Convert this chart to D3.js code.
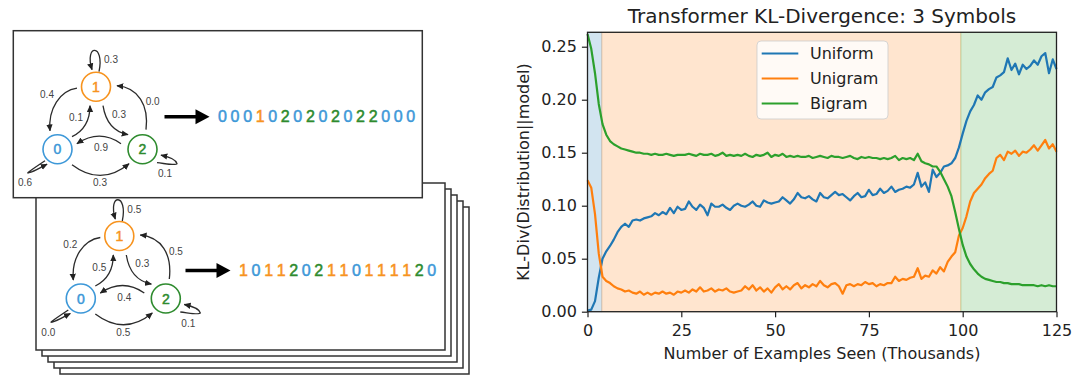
<!DOCTYPE html>
<html>
<head>
<meta charset="utf-8">
<script src="https://cdn.jsdelivr.net/npm/d3@7"></script>
<style>
  body { margin: 0; background: #fff; }
</style>
</head>
<body>
<svg id="fig" width="1080" height="388"></svg>
<script>
// ---- chart data ----
const examplesSeen = d3.range(0, 126); // thousands
const seriesNames = ["Uniform", "Unigram", "Bigram"];
const uniformKL = [
  0.001,0.002,0.010,0.032,0.050,0.057,0.062,0.068,0.075,0.080,
  0.083,0.080,0.086,0.087,0.086,0.088,0.089,0.090,0.093,0.091,
  0.094,0.092,0.098,0.093,0.099,0.096,0.097,0.104,0.099,0.096,
  0.101,0.098,0.091,0.102,0.099,0.099,0.101,0.098,0.096,0.100,
  0.102,0.100,0.099,0.101,0.104,0.100,0.099,0.105,0.103,0.102,
  0.103,0.104,0.108,0.105,0.102,0.106,0.112,0.108,0.107,0.109,
  0.106,0.104,0.112,0.108,0.107,0.110,0.113,0.110,0.111,0.108,
  0.105,0.109,0.112,0.108,0.109,0.115,0.110,0.111,0.116,0.112,
  0.114,0.118,0.113,0.115,0.116,0.118,0.117,0.120,0.131,0.118,
  0.122,0.113,0.134,0.127,0.131,0.137,0.138,0.140,0.145,0.155,
  0.168,0.180,0.189,0.195,0.204,0.200,0.207,0.210,0.212,0.221,
  0.223,0.226,0.239,0.228,0.234,0.224,0.233,0.229,0.232,0.237,
  0.233,0.241,0.244,0.225,0.238,0.229
];
const unigramKL = [
  0.124,0.117,0.092,0.055,0.033,0.029,0.027,0.024,0.022,0.021,
  0.019,0.020,0.018,0.017,0.019,0.016,0.018,0.016,0.018,0.017,
  0.019,0.017,0.018,0.016,0.019,0.018,0.020,0.018,0.021,0.019,
  0.023,0.019,0.020,0.022,0.019,0.021,0.020,0.022,0.019,0.018,
  0.019,0.020,0.024,0.021,0.025,0.020,0.023,0.019,0.022,0.018,
  0.023,0.026,0.021,0.024,0.021,0.025,0.027,0.022,0.025,0.023,
  0.026,0.024,0.029,0.025,0.023,0.026,0.027,0.024,0.017,0.025,
  0.026,0.024,0.026,0.025,0.028,0.026,0.027,0.024,0.026,0.025,
  0.027,0.027,0.033,0.029,0.031,0.030,0.032,0.033,0.041,0.031,
  0.034,0.033,0.039,0.036,0.042,0.038,0.047,0.052,0.056,0.072,
  0.079,0.090,0.104,0.112,0.116,0.120,0.126,0.130,0.133,0.145,
  0.148,0.143,0.151,0.149,0.152,0.147,0.151,0.150,0.153,0.157,
  0.152,0.157,0.162,0.154,0.158,0.151
];
const bigramKL = [
  0.262,0.248,0.225,0.196,0.177,0.167,0.161,0.158,0.156,0.154,
  0.153,0.152,0.151,0.150,0.150,0.149,0.149,0.148,0.149,0.148,
  0.148,0.149,0.148,0.147,0.148,0.148,0.148,0.149,0.148,0.147,
  0.149,0.148,0.148,0.149,0.147,0.148,0.150,0.147,0.148,0.147,
  0.148,0.147,0.149,0.147,0.146,0.148,0.147,0.148,0.150,0.146,
  0.148,0.147,0.149,0.146,0.147,0.146,0.147,0.146,0.146,0.147,
  0.145,0.146,0.147,0.146,0.145,0.147,0.146,0.146,0.145,0.146,
  0.147,0.145,0.144,0.146,0.145,0.146,0.145,0.145,0.144,0.145,
  0.144,0.145,0.147,0.143,0.145,0.144,0.145,0.143,0.149,0.142,
  0.140,0.139,0.137,0.137,0.132,0.125,0.118,0.109,0.094,0.078,
  0.063,0.052,0.045,0.040,0.036,0.033,0.031,0.030,0.029,0.028,
  0.028,0.027,0.027,0.026,0.026,0.026,0.025,0.025,0.025,0.025,
  0.024,0.025,0.024,0.025,0.024,0.024
];
// shaded phases: [start, end) in thousands
const phaseBounds = [0, 3.8, 99.5, 125];
const xTicks = [0, 25, 50, 75, 100, 125];
const yTicks = [0, 0.05, 0.10, 0.15, 0.20, 0.25];

// ---- diagram data ----
const edgeKeys = ["self1", "e10", "e01", "e12", "e21", "e20", "self0", "e02", "self2"];
const topProbs = [0.3, 0.4, 0.1, 0.3, 0.0, 0.9, 0.6, 0.3, 0.1];
const bottomProbs = [0.5, 0.2, 0.5, 0.3, 0.5, 0.4, 0.0, 0.5, 0.1];
const topSequence = "0001020202022000";
const bottomSequence = "1011202110111120";

const tab = ["#1f77b4", "#ff7f0e", "#2ca02c"];
const symColors = ["#3d98d8", "#f7931e", "#2e8b2e"];

const svg = d3.select("#fig");

// arrowhead for the state diagram
svg.append("defs").append("marker")
    .attr("id", "head")
    .attr("viewBox", "0 0 10 10")
    .attr("refX", 9)
    .attr("refY", 5)
    .attr("markerUnits", "userSpaceOnUse")
    .attr("markerWidth", 7)
    .attr("markerHeight", 7)
    .attr("orient", "auto")
    .append("path")
    .attr("d", "M0,0.5 L10,5 L0,9.5 z")
    .attr("fill", "#222");

// ================= LEFT: stacked cards =================
const cardW = 409, cardH = 167;

// the stack behind (back to front)
for (let i = 4; i >= 0; i--) {
    svg.append("rect")
        .attr("x", 36 + 6 * i)
        .attr("y", 183 + 6 * i)
        .attr("width", cardW)
        .attr("height", cardH)
        .attr("fill", "#fff")
        .attr("stroke", "#333")
        .attr("stroke-width", 1.5);
}
// top card
svg.append("rect")
    .attr("x", 13.3)
    .attr("y", 30.7)
    .attr("width", cardW)
    .attr("height", cardH)
    .attr("fill", "#fff")
    .attr("stroke", "#333")
    .attr("stroke-width", 1.5);

// node positions relative to node "1"
const nodePos = [[-38.5, 62.5], [0, 0], [46.5, 62.5]];
const edgePaths = {
    self1: { d: "M3,-15 C9,-43 -12,-43 -4,-17", label: [15, -27] },
    e10:   { d: "M-19,1.5 C-36,4 -48,22 -46,44", label: [-49, 8.3] },
    e01:   { d: "M-24,50 Q-6,41 -6,19", label: [-20, 31] },
    e12:   { d: "M7,19 Q11,44 32,48", label: [23, 27.7] },
    e21:   { d: "M50,43 C53,18 42,1 21,-1", label: [56.7, 15] },
    e20:   { d: "M25,57 Q3.5,42 -19,57", label: [5, 61.3] },
    self0: { d: "M-51,74 C-60,80 -72,88 -67,86 C-62,85 -56,81 -49,77.5", label: [-71, 96] },
    e02:   { d: "M-24,78 Q5,100 33,77", label: [4, 96] },
    self2: { d: "M61,76 C70,77 80,79 81,77 C80,73 72,70 65,68.5", label: [69, 87] }
};

function drawGraph(ox, oy, probs) {
    const g = svg.append("g").attr("transform", `translate(${ox},${oy})`);

    edgeKeys.forEach((k, i) => {
        g.append("path")
            .attr("d", edgePaths[k].d)
            .attr("fill", "none")
            .attr("stroke", "#2b2b2b")
            .attr("stroke-width", 1.3)
            .attr("marker-end", "url(#head)");
        g.append("text")
            .attr("x", edgePaths[k].label[0])
            .attr("y", edgePaths[k].label[1])
            .attr("text-anchor", "middle")
            .attr("dominant-baseline", "central")
            .style("font-family", "'Liberation Sans', Arial, sans-serif")
            .style("font-size", "10px")
            .style("fill", "#444")
            .text(probs[i].toFixed(1));
    });

    const nodes = g.selectAll(".node")
        .data(nodePos)
        .enter()
        .append("g")
        .attr("transform", d => `translate(${d[0]},${d[1]})`);
    nodes.append("circle")
        .attr("r", 14.5)
        .attr("fill", "#fff")
        .attr("stroke", (d, i) => symColors[i])
        .attr("stroke-width", 1.6);
    nodes.append("text")
        .attr("text-anchor", "middle")
        .attr("dominant-baseline", "central")
        .style("font-family", "'Liberation Sans', Arial, sans-serif")
        .style("font-size", "14px")
        .style("fill", (d, i) => symColors[i])
        .style("stroke", (d, i) => symColors[i])
        .style("stroke-width", 0.5)
        .text((d, i) => i);
}

function drawSequence(x0, y0, seq) {
    // big arrow
    svg.append("line")
        .attr("x1", x0 - 54).attr("x2", x0 - 22)
        .attr("y1", y0).attr("y2", y0)
        .attr("stroke", "#000")
        .attr("stroke-width", 3.5);
    svg.append("path")
        .attr("d", `M${x0 - 23},${y0 - 7.5} L${x0 - 9},${y0} L${x0 - 23},${y0 + 7.5} z`)
        .attr("fill", "#000");

    svg.selectAll(null)
        .data(seq.split(""))
        .enter()
        .append("text")
        .attr("x", (d, i) => x0 + 4 + i * 12.55)
        .attr("y", y0)
        .attr("text-anchor", "middle")
        .attr("dominant-baseline", "central")
        .style("font-family", "'Liberation Sans', Arial, sans-serif")
        .style("font-size", "16px")
        .style("fill", d => symColors[+d])
        .style("stroke", d => symColors[+d])
        .style("stroke-width", 0.5)
        .text(d => d);
}

drawGraph(96, 86.7, topProbs);
drawSequence(218.5, 116.7, topSequence);
drawGraph(119.3, 236, bottomProbs);
drawSequence(239.5, 270.5, bottomSequence);

// ================= RIGHT: KL-divergence chart =================
const x = d3.scaleLinear().domain([0, 125]).range([587.5, 1056.5]);
const y = d3.scaleLinear().domain([0, 0.2636]).range([311.7, 32.3]);
const font = "'DejaVu Sans', sans-serif";

const chart = svg.append("g");

// phase shading
chart.selectAll(".phase")
    .data(d3.range(3))
    .enter()
    .append("rect")
    .attr("x", i => x(phaseBounds[i]))
    .attr("y", y.range()[1])
    .attr("width", i => x(phaseBounds[i + 1]) - x(phaseBounds[i]))
    .attr("height", y.range()[0] - y.range()[1])
    .attr("fill", i => tab[i])
    .attr("fill-opacity", 0.2)
    .attr("stroke", i => tab[i])
    .attr("stroke-opacity", 0.2)
    .attr("stroke-width", 1);

// lines
const line = d3.line()
    .x((d, i) => x(examplesSeen[i]))
    .y(d => y(d));

[uniformKL, unigramKL, bigramKL].forEach((s, i) => {
    chart.append("path")
        .datum(s)
        .attr("d", line)
        .attr("fill", "none")
        .attr("stroke", tab[i])
        .attr("stroke-width", 2.2)
        .attr("stroke-linejoin", "round");
});

// axes
const xAxis = chart.append("g")
    .attr("transform", `translate(0,${y(0)})`)
    .call(d3.axisBottom(x).tickValues(xTicks).tickSize(5.6).tickPadding(7).tickSizeOuter(0));
const yAxis = chart.append("g")
    .attr("transform", `translate(${x(0)},0)`)
    .call(d3.axisLeft(y).tickValues(yTicks).tickFormat(d3.format(".2f")).tickSize(5.6).tickPadding(5).tickSizeOuter(0));

[xAxis, yAxis].forEach(a => {
    a.select(".domain").remove();
    a.selectAll("line").attr("stroke", "#222").attr("stroke-width", 1.2);
    a.selectAll("text")
        .style("font-family", font)
        .style("font-size", "16px")
        .style("fill", "#222");
});

// frame
chart.append("rect")
    .attr("x", x(0))
    .attr("y", y.range()[1])
    .attr("width", x(125) - x(0))
    .attr("height", y.range()[0] - y.range()[1])
    .attr("fill", "none")
    .attr("stroke", "#222")
    .attr("stroke-width", 1.3);

// title and labels
chart.append("text")
    .attr("x", (x(0) + x(125)) / 2)
    .attr("y", 23)
    .attr("text-anchor", "middle")
    .style("font-family", font)
    .style("font-size", "20px")
    .style("fill", "#222")
    .text("Transformer KL-Divergence: 3 Symbols");

chart.append("text")
    .attr("x", (x(0) + x(125)) / 2)
    .attr("y", 359)
    .attr("text-anchor", "middle")
    .style("font-family", font)
    .style("font-size", "16px")
    .style("fill", "#222")
    .text("Number of Examples Seen (Thousands)");

chart.append("text")
    .attr("transform", `translate(523.5,${(y.range()[0] + y.range()[1]) / 2}) rotate(-90)`)
    .attr("text-anchor", "middle")
    .attr("dominant-baseline", "central")
    .style("font-family", font)
    .style("font-size", "16px")
    .style("fill", "#222")
    .text("KL-Div(Distribution||model)");

// legend
const legend = chart.append("g").attr("transform", "translate(757,41)");
legend.append("rect")
    .attr("width", 131)
    .attr("height", 78)
    .attr("rx", 4)
    .attr("fill", "#fff")
    .attr("fill-opacity", 0.8)
    .attr("stroke", "#ccc")
    .attr("stroke-opacity", 0.8);
const rows = legend.selectAll(".row")
    .data(seriesNames)
    .enter()
    .append("g")
    .attr("transform", (d, i) => `translate(0,${12.5 + i * 25})`);
rows.append("line")
    .attr("x1", 4.7).attr("x2", 41.3)
    .attr("stroke", (d, i) => tab[i])
    .attr("stroke-width", 2.2);
rows.append("text")
    .attr("x", 53)
    .attr("dominant-baseline", "central")
    .style("font-family", font)
    .style("font-size", "16px")
    .style("fill", "#222")
    .text(d => d);
</script>
</body>
</html>
